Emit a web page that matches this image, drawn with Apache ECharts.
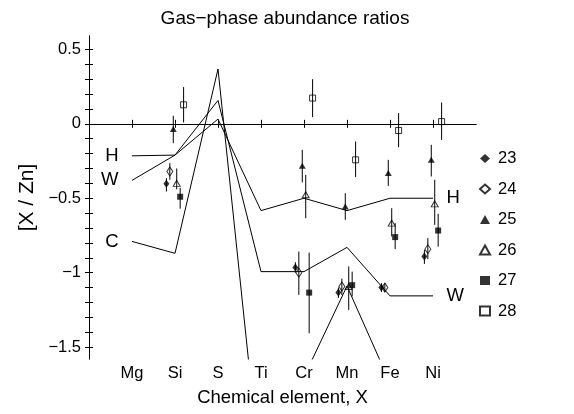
<!DOCTYPE html>
<html><head><meta charset="utf-8">
<script src="https://cdn.jsdelivr.net/npm/echarts@6/dist/echarts.min.js"></script>
<style>html,body{margin:0;padding:0;background:#fff}#c{width:574px;height:414px}</style>
</head><body><div id="c"></div>
<script>
// ---- data ----
const elements = ['Mg','Si','S','Ti','Cr','Mn','Fe','Ni'];
const modelNames = ['H','W','C'];
const modelH = [-0.215,-0.21,0.032,-0.583,-0.50,-0.583,-0.50,-0.50];
const modelW = [-0.38,-0.21,0.157,-0.993,-0.993,-0.83,-1.156,-1.156];
const modelC = [-0.79,-0.87,0.368,-2.39,-1.70,-1.09,-1.74,null];
const obsElements = ['Si','Cr','Mn','Fe','Ni'];
const seriesNames = ['23','24','25','26','27','28'];
const val23 = [-0.403,-0.966,-1.134,-1.10,-0.892];
const lo23  = [-0.455,-1.00,-1.17,-1.13,-0.941];
const hi23  = [-0.365,-0.93,-1.10,-1.07,-0.847];
const val24 = [-0.32,-1.00,-1.093,-1.10,-0.842];
const lo24  = [-0.376,-1.149,-1.15,-1.13,-0.909];
const hi24  = [-0.264,-0.858,-1.04,-1.07,-0.768];
const val25 = [-0.034,-0.282,-0.556,-0.331,-0.242];
const lo25  = [-0.13,-0.394,-0.645,-0.417,-0.354];
const hi25  = [0.054,-0.175,-0.466,-0.242,-0.141];
const val26 = [-0.40,-0.477,-1.093,-0.667,-0.538];
const lo26  = [-0.44,-0.634,-1.25,-0.757,-0.679];
const hi26  = [-0.30,-0.343,-0.958,-0.567,-0.376];
const val27 = [-0.49,-1.134,-1.084,-0.761,-0.717];
const lo27  = [-0.57,-1.407,-1.16,-0.842,-0.825];
const hi27  = [-0.43,-0.865,-0.993,-0.667,-0.605];
const val28 = [0.128,0.173,-0.242,-0.045,0.015];
const lo28  = [0.009,0.045,-0.358,-0.157,-0.108];
const hi28  = [0.247,0.30,-0.119,0.072,0.143];
const yTickValues = [-1.5,-1.4,-1.3,-1.2,-1.1,-1.0,-0.9,-0.8,-0.7,-0.6,-0.5,-0.4,-0.3,-0.2,-0.1,0,0.1,0.2,0.3,0.4,0.5];
const yLabelValues = [-1.5,-1,-0.5,0,0.5];

// ---- styles ----
const FONT = 'Liberation Sans';
const vals = [val23,val24,val25,val26,val27,val28];
const los = [lo23,lo24,lo25,lo26,lo27,lo28];
const his = [hi23,hi24,hi25,hi26,hi27,hi28];
const symbols = ['diamond','diamond','triangle','triangle','rect','rect'];
const sizes = [[6,8],[6,9],[7,6],[7,6],[6,6],[6,6]];
const filled = [true,false,true,false,true,false];
const dodge = i => (i - 2.5) * 0.08;
const xPos = name => elements.indexOf(name) + 1;
const xTicks = elements.map((e,i)=>i+1);

const series = [];
// model lines
[modelH, modelW, modelC].forEach((arr, k) => {
  let lastIdx = -1;
  arr.forEach((v,i)=>{ if (v !== null) lastIdx = i; });
  const lab = pos => ({show:true, position:pos, distance:13, formatter:modelNames[k], fontSize:18.5, color:'#000', fontFamily:FONT});
  series.push({
    type:'line', name:'model'+modelNames[k], silent:true, clip:true,
    symbol:'circle', symbolSize:1, showSymbol:true,
    itemStyle:{color:'rgba(0,0,0,0)'},
    lineStyle:{color:'#000', width:1},
    data: arr.map((v,i)=>{
      const d = {value:[i+1, v]};
      if (i === 0) d.label = lab('left');
      if (i === lastIdx && k < 2) d.label = lab('right');
      return d;
    }),
    markLine: k === 0 ? {silent:true, symbol:'none', label:{show:false}, lineStyle:{color:'#000', width:1, type:'solid'}, data:[{yAxis:0}]} : undefined,
    z: 2
  });
});
// error bars and markers
seriesNames.forEach((nm, i) => {
  series.push({
    type:'custom', name:'err'+nm, silent:true, z:3,
    renderItem:(params, api)=>{
      const x = api.value(0);
      const p1 = api.coord([x, api.value(1)]);
      const p2 = api.coord([x, api.value(2)]);
      return {type:'line', shape:{x1:p1[0], y1:p1[1], x2:p2[0], y2:p2[1]}, style:{stroke:'#000', lineWidth:1}};
    },
    encode:{x:0, y:[1,2]},
    data: obsElements.map((e,j)=>[xPos(e)+dodge(i), los[i][j], his[i][j]])
  });
  series.push({
    type:'scatter', name:nm, z:4,
    symbol:symbols[i], symbolSize:sizes[i],
    itemStyle: filled[i] ? {color:'#000'} : {color:'rgba(255,255,255,0)', borderColor:'#000', borderWidth:1},
    data: obsElements.map((e,j)=>[xPos(e)+dodge(i), vals[i][j]])
  });
});

const minusFmt = v => v < 0 ? '\u2212' + Math.abs(v) : String(v);
const axisLine = {show:true, lineStyle:{color:'#000', width:1}};
const option = {
  animation:false,
  backgroundColor:'#fff',
  title:{text:'Gas\u2212phase abundance ratios', left:280, top:4, textAlign:'center',
    textStyle:{fontFamily:FONT, fontSize:19, fontWeight:'normal', color:'#000'}},
  grid:{left:89, right:98, top:36, bottom:55},
  legend:{
    orient:'vertical', left:474, top:145, itemWidth:10, itemHeight:9, itemGap:13.5,
    data: seriesNames,
    textStyle:{fontFamily:FONT, fontSize:16.5, color:'#000', lineHeight:16.5, padding:[0,0,0,3]}
  },
  xAxis:[{
    type:'value', min:0, max:9, position:'bottom',
    name:'Chemical element, X', nameLocation:'middle', nameGap:29,
    nameTextStyle:{fontFamily:FONT, fontSize:18.5, color:'#000'},
    axisLine,
    axisTick:{show:true, inside:true, length:4, customValues:xTicks, lineStyle:{color:'#000'}},
    axisLabel:{show:true, customValues:xTicks, formatter:v=>elements[Math.round(v)-1]||'', margin:6,
      fontFamily:FONT, fontSize:16.5, color:'#000'},
    splitLine:{show:false}
  },{
    type:'value', min:0, max:9, position:'top',
    axisLine,
    axisTick:{show:true, inside:true, length:4, customValues:xTicks, lineStyle:{color:'#000'}},
    axisLabel:{show:false}, splitLine:{show:false}
  }],
  yAxis:[{
    type:'value', min:-1.58, max:0.59, position:'left',
    name:'[X / Zn]', nameLocation:'middle', nameGap:47, nameRotate:90,
    nameTextStyle:{fontFamily:FONT, fontSize:21, color:'#000'},
    axisLine,
    axisTick:{show:true, inside:true, length:4, customValues:yTickValues, lineStyle:{color:'#000'}},
    axisLabel:{show:true, customValues:yLabelValues, formatter:minusFmt, margin:8,
      fontFamily:FONT, fontSize:16.5, color:'#000'},
    splitLine:{show:false}
  },{
    type:'value', min:-1.58, max:0.59, position:'right',
    axisLine,
    axisTick:{show:true, inside:true, length:4, customValues:yTickValues, lineStyle:{color:'#000'}},
    axisLabel:{show:false}, splitLine:{show:false}
  }],
  series
};
const chart = echarts.init(document.getElementById('c'), null, {renderer:'canvas'});
chart.setOption(option);
</script></body></html>
